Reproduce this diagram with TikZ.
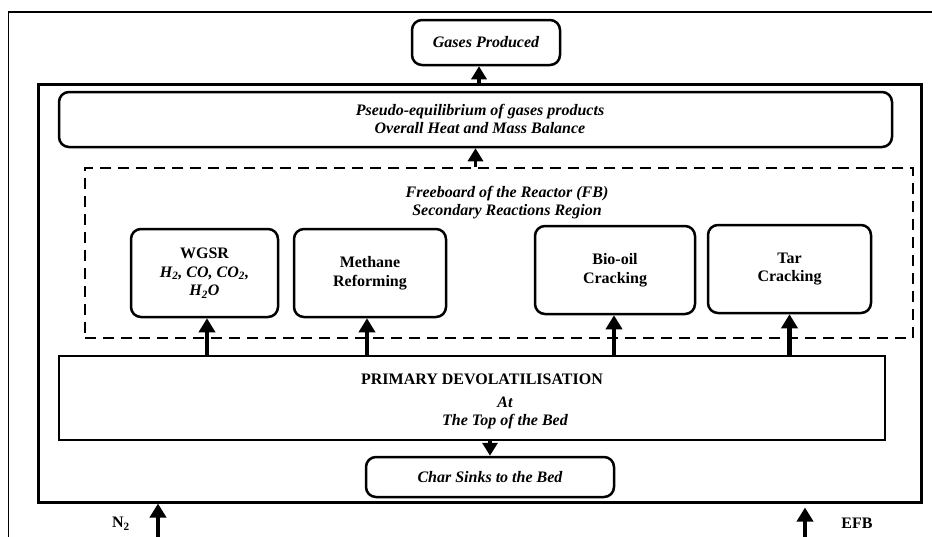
\documentclass[tikz,border=0pt]{standalone}
\usepackage{fontspec}
\setmainfont{Liberation Serif}
\usetikzlibrary{arrows.meta,calc}
\begin{document}
\begin{tikzpicture}[x=1pt,y=-1pt,
  every node/.style={font=\fontsize{16}{18.5}\selectfont},
  rbox/.style={draw,line width=2.5pt,rounded corners=10pt,inner sep=0pt,align=center,font=\fontsize{16}{18.5}\selectfont\bfseries},
  sbox/.style={draw,line width=2.5pt,inner sep=0pt},
  lbl/.style={inner sep=0pt,align=center,font=\fontsize{16}{18.5}\selectfont\bfseries\itshape},
  bigarrow/.style={line width=4.5pt,-{Triangle[width=16pt,length=14pt]}},
  midarrow/.style={line width=3.2pt,-{Triangle[width=15pt,length=13pt]}}]
\useasboundingbox (0,0) rectangle (932,536);
\fill[white] (0,0) rectangle (932,536);
% outer frame (extends past the page)
\coordinate (fa) at (8.5,540);
\coordinate (fb0) at (8.5,12);
\coordinate (fc) at (940,12);
\draw[line width=1.4pt] (fa) -- (fb0) -- (fc);
% reactor
\node[draw,line width=3pt,minimum width=883pt,minimum height=418pt,inner sep=0pt] (reactor) at (479.5,293) {};
% gases produced
\node[rbox,minimum width=148pt,minimum height=45pt] (gases) at (486,42.5) {\itshape Gases Produced};
% pseudo-equilibrium
\node[rbox,minimum width=833pt,minimum height=55pt] (pseudo) at (475.5,119.5) {};
\node[lbl] (pseudotxt) at (480,119) {Pseudo-equilibrium of gases products\\Overall Heat and Mass Balance};
% freeboard
\node[draw,dash pattern=on 11pt off 7pt,line width=2.4pt,minimum width=828pt,minimum height=170pt,inner sep=0pt] (fb) at (499,253) {};
\node[lbl] (fbtxt) at (507,202.5) {Freeboard of the Reactor (FB)\\Secondary Reactions Region};
% reaction boxes
\node[rbox,minimum width=147pt,minimum height=88pt] (wgsr) at (204.5,273) {WGSR\\\itshape H\textsubscript{2}, CO, CO\textsubscript{2},\\\itshape H\textsubscript{2}O};
\node[rbox,minimum width=152pt,minimum height=88pt] (meth) at (370,273) {Methane\\Reforming};
\node[rbox,minimum width=160pt,minimum height=88pt] (bio) at (615,270) {Bio-oil\\Cracking};
\node[rbox,minimum width=163pt,minimum height=88pt] (tar) at (789.5,269) {Tar\\Cracking};
% primary devolatilisation
\node[sbox,minimum width=826pt,minimum height=84pt] (prim) at (472,398) {};
\node[inner sep=0pt,font=\fontsize{16}{18.5}\selectfont\bfseries] (primtxt) at (482,379) {PRIMARY DEVOLATILISATION};
\node[lbl] (attxt) at (505,413) {At\\The Top of the Bed};
% char sinks
\node[rbox,minimum width=248pt,minimum height=40pt] (char) at (490,477) {\itshape Char Sinks to the Bed};
% arrows
\draw[midarrow] ([xshift=-7pt]gases.south |- reactor.north) -- ([xshift=-7pt]gases.south);
\draw[midarrow] (pseudo.south |- fb.north) -- (pseudo.south);
\draw[bigarrow] ([xshift=2.5pt]wgsr.south |- prim.north) -- ([xshift=2.5pt]wgsr.south);
\draw[bigarrow] ([xshift=-3pt]meth.south |- prim.north) -- ([xshift=-3pt]meth.south);
\draw[bigarrow] ([xshift=-1pt]bio.south |- prim.north) -- ([xshift=-1pt]bio.south);
\draw[bigarrow] (tar.south |- prim.north) -- (tar.south);
\draw[midarrow] (prim.south -| char.north) -- (char.north);
% inputs
\coordinate (n2in) at (158,540);
\coordinate (efbin) at (805,540);
\draw[bigarrow] (n2in) -- (n2in |- reactor.south);
\draw[bigarrow,shorten >=4pt] (efbin) -- (efbin |- reactor.south);
\node[inner sep=0pt,font=\fontsize{16}{18.5}\selectfont\bfseries] (n2) at (121,524) {N\textsubscript{2}};
\node[inner sep=0pt,font=\fontsize{16}{18.5}\selectfont\bfseries] (efb) at (857,523) {EFB};
\end{tikzpicture}
\end{document}
